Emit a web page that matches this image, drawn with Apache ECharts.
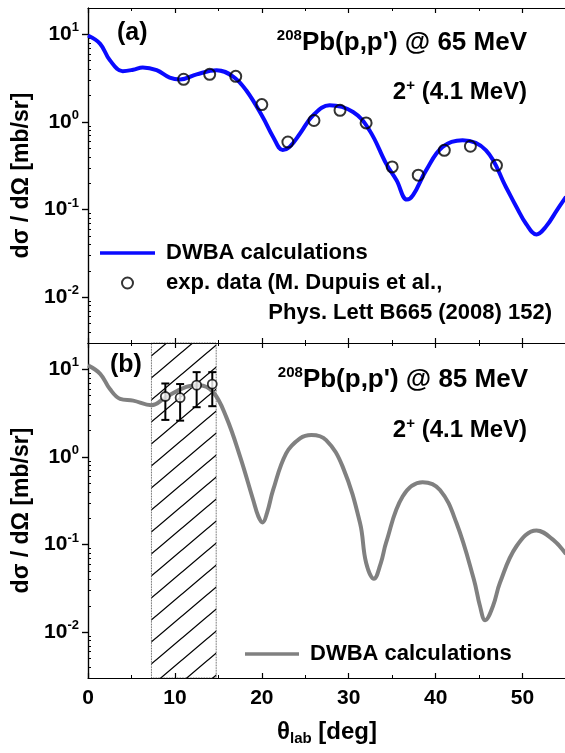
<!DOCTYPE html>
<html>
<head>
<meta charset="utf-8">
<script src="https://cdn.jsdelivr.net/npm/echarts@6/dist/echarts.min.js"></script>
<style>
  html, body { margin: 0; padding: 0; background: #fff; }
  #chart { width: 565px; height: 753px; }
</style>
</head>
<body>
<div id="chart"></div>
<script>
// ---- panel (a): 208Pb(p,p') @ 65 MeV, 2+ (4.1 MeV)
var calc65Angle = [0, 1.4, 2.5, 4.0, 5.2, 6.3, 7.9, 9.4, 10.6, 12.5, 14.8, 16.7, 18.2, 20.1, 21.3, 22.4, 23.2, 24.4, 25.9, 27.8, 30.5, 32.4, 34.3, 35.5, 36.7, 37.4, 38.9, 40.8, 43.1, 45.8, 48.1, 49.3, 50.4, 51.6, 52.7, 54.0, 55];
var calc65Xs = [9.7, 7.8, 5.1, 3.8, 3.95, 4.2, 3.9, 3.2, 3.05, 3.5, 3.9, 3.3, 2.3, 1.14, 0.675, 0.48, 0.52, 0.74, 1.19, 1.55, 1.3, 0.80, 0.335, 0.216, 0.13, 0.146, 0.28, 0.52, 0.62, 0.475, 0.18, 0.107, 0.069, 0.052, 0.064, 0.1, 0.14];
var exp65Angle = [11, 14, 17, 20, 23, 26, 29, 32, 35, 38, 41, 44, 47];
var exp65Xs = [3.07, 3.5, 3.32, 1.58, 0.59, 1.04, 1.36, 0.975, 0.307, 0.247, 0.475, 0.528, 0.32];

// ---- panel (b): 208Pb(p,p') @ 85 MeV, 2+ (4.1 MeV)
var calc85Angle = [0, 1.4, 2.5, 3.7, 5.2, 7.3, 9.0, 11.3, 12.8, 14.4, 15.9, 17.5, 19.0, 19.6, 20.1, 20.6, 21.3, 22.8, 24.4, 25.7, 27.4, 29.3, 31.3, 32.0, 32.9, 33.7, 34.3, 36.2, 38.5, 40.5, 42.4, 44.4, 45.1, 45.7, 46.6, 47.4, 49.3, 51.6, 53.5, 55];
var calc85Xs = [11.1, 8.9, 6.0, 4.6, 4.4, 3.9, 4.85, 6.3, 6.6, 5.5, 2.87, 1.01, 0.325, 0.21, 0.179, 0.23, 0.42, 1.1, 1.63, 1.78, 1.56, 0.776, 0.176, 0.062, 0.0407, 0.062, 0.105, 0.354, 0.515, 0.42, 0.176, 0.04, 0.0199, 0.0137, 0.0199, 0.0366, 0.0957, 0.145, 0.114, 0.078];
var exp85Angle = [8.9, 10.6, 12.5, 14.3];
var exp85Xs = [4.9, 4.75, 6.6, 6.8];
var exp85Low = [2.65, 2.6, 3.7, 3.8];
var exp85High = [6.9, 6.8, 9.3, 9.3];
var hatchRange = [7.3, 14.75];

// ---- ticks
var xTickLabels = [0, 10, 20, 30, 40, 50];
var yMajorTicks = [0.01, 0.1, 1, 10];
var yMinorTicks = [0.004, 0.005, 0.006, 0.007, 0.008, 0.009,
  0.02, 0.03, 0.04, 0.05, 0.06, 0.07, 0.08, 0.09,
  0.2, 0.3, 0.4, 0.5, 0.6, 0.7, 0.8, 0.9,
  2, 3, 4, 5, 6, 7, 8, 9, 20];

var FONT = "'Liberation Sans', Arial, sans-serif";
var LINE_ICON = 'path://M0,0H60V4H0Z';

function pairs(xs, ys) {
  return xs.map(function (x, i) { return [x, ys[i]]; });
}

function hatchCanvas() {
  var w = 26, h = 22;
  var c = document.createElement('canvas');
  c.width = w; c.height = h;
  var g = c.getContext('2d');
  g.strokeStyle = '#000';
  g.lineWidth = 1.3;
  g.beginPath();
  [-w, 0, w].forEach(function (dx) {
    g.moveTo(dx - 3, h + 3 * h / w);
    g.lineTo(dx + w + 3, -3 * h / w);
  });
  g.stroke();
  return c;
}

function xAxes(grid, withLabels) {
  var base = {
    gridIndex: grid, type: 'value', min: 0, max: 55, interval: 10,
    axisLine: { lineStyle: { color: '#000', width: 1.2 } },
    axisTick: { inside: true, length: 5, lineStyle: { color: '#000', width: 1.2 } },
    minorTick: { show: true, splitNumber: 2, length: 3, lineStyle: { color: '#000', width: 1 } },
    splitLine: { show: false },
    minorSplitLine: { show: false },
    axisLabel: { show: false }
  };
  var bottom = Object.assign({}, base, { position: 'bottom' });
  var top = Object.assign({}, base, { position: 'top' });
  if (withLabels) {
    bottom.axisLabel = {
      show: true, customValues: xTickLabels, margin: 10,
      fontSize: 21, fontWeight: 'bold', color: '#000', fontFamily: FONT
    };
    bottom.name = '{t|θ}{sub|lab}{t| [deg]}';
    bottom.nameLocation = 'middle';
    bottom.nameGap = 40;
    bottom.nameTextStyle = {
      rich: {
        t: { fontSize: 24, fontWeight: 'bold', color: '#000', fontFamily: FONT, lineHeight: 28 },
        sub: { fontSize: 15, fontWeight: 'bold', color: '#000', fontFamily: FONT, verticalAlign: 'bottom', lineHeight: 15 }
      }
    };
  }
  return [bottom, top];
}

function yAxes(grid) {
  var base = {
    gridIndex: grid, type: 'log', logBase: 10, min: 0.003, max: 20,
    splitLine: { show: false },
    minorSplitLine: { show: false },
    axisLabel: { show: false }
  };
  var leftMajor = Object.assign({}, base, {
    position: 'left',
    axisLine: { show: true, lineStyle: { color: '#000', width: 1.2 } },
    axisTick: { show: true, inside: false, length: 6, customValues: yMajorTicks, lineStyle: { color: '#000', width: 1.2 } },
    axisLabel: {
      show: true, customValues: yMajorTicks, margin: 9,
      formatter: function (v) {
        return '{b|10}{s|' + Math.round(Math.log10(v)) + '}';
      },
      rich: {
        b: { fontSize: 21, fontWeight: 'bold', color: '#000', fontFamily: FONT, lineHeight: 26 },
        s: { fontSize: 13, fontWeight: 'bold', color: '#000', fontFamily: FONT, verticalAlign: 'top', lineHeight: 13 }
      }
    },
    name: 'dσ / dΩ [mb/sr]',
    nameLocation: 'middle',
    nameGap: 50,
    nameTextStyle: { fontSize: 23, fontWeight: 'bold', color: '#000', fontFamily: FONT }
  });
  var rightMajor = Object.assign({}, base, {
    position: 'right',
    axisLine: { show: true, lineStyle: { color: '#000', width: 1.2 } },
    axisTick: { show: true, inside: true, length: 6, customValues: yMajorTicks, lineStyle: { color: '#000', width: 1.2 } }
  });
  // minor ticks (left used already -> these flip sides)
  var leftMinor = Object.assign({}, base, {
    position: 'right',
    axisLine: { show: false },
    axisTick: { show: true, inside: false, length: 3, customValues: yMinorTicks, lineStyle: { color: '#000', width: 1 } }
  });
  var rightMinor = Object.assign({}, base, {
    position: 'left',
    axisLine: { show: false },
    axisTick: { show: true, inside: true, length: 3, customValues: yMinorTicks, lineStyle: { color: '#000', width: 1 } }
  });
  return [leftMajor, rightMajor, leftMinor, rightMinor];
}

var chart = echarts.init(document.getElementById('chart'));

var legendText = { fontSize: 22, fontWeight: 'bold', color: '#000', fontFamily: FONT, lineHeight: 22, padding: [0, 0, 0, 6] };
var supRich = {
  m: { fontSize: 26, fontWeight: 'bold', fill: '#000', fontFamily: FONT, lineHeight: 30 },
  n: { fontSize: 24, fontWeight: 'bold', fill: '#000', fontFamily: FONT, lineHeight: 28 },
  sup: { fontSize: 15, fontWeight: 'bold', fill: '#000', fontFamily: FONT, verticalAlign: 'top', lineHeight: 15 }
};

chart.setOption({
  animation: false,
  backgroundColor: '#fff',
  grid: [
    { left: 88, top: 8, width: 478, height: 335, outerBoundsMode: 'none' },
    { left: 88, top: 343, width: 478, height: 335, outerBoundsMode: 'none' }
  ],
  xAxis: xAxes(0, false).concat(xAxes(1, true)),
  yAxis: yAxes(0).concat(yAxes(1)),
  legend: [
    {
      left: 95, top: 237, orient: 'vertical', itemWidth: 55, itemHeight: 11, itemGap: 8,
      selectedMode: false,
      data: [
        { name: 'DWBA calculations', icon: LINE_ICON },
        { name: 'exp. data (M. Dupuis et al.,' }
      ],
      textStyle: legendText
    },
    {
      left: 240, top: 638, orient: 'vertical', itemWidth: 54, itemHeight: 11,
      selectedMode: false,
      data: [{ name: 'DWBA 85', icon: LINE_ICON }],
      formatter: function () { return 'DWBA calculations'; },
      textStyle: legendText
    }
  ],
  graphic: [
    { type: 'text', x: 117, y: 33, style: { text: '(a)', font: 'bold 25px ' + FONT, fill: '#000', verticalAlign: 'middle' } },
    { type: 'text', x: 527, y: 43, style: { text: '{sup|208}{m|Pb(p,p\') @ 65 MeV}', rich: supRich, align: 'right', verticalAlign: 'middle' } },
    { type: 'text', x: 527, y: 92, style: { text: '{n|2}{sup|+}{n| (4.1 MeV)}', rich: supRich, align: 'right', verticalAlign: 'middle' } },
    { type: 'text', x: 552, y: 313, style: { text: 'Phys. Lett B665 (2008) 152)', font: 'bold 22px ' + FONT, fill: '#000', align: 'right', verticalAlign: 'middle' } },
    { type: 'text', x: 110, y: 365, style: { text: '(b)', font: 'bold 25px ' + FONT, fill: '#000', verticalAlign: 'middle' } },
    { type: 'text', x: 528, y: 380, style: { text: '{sup|208}{m|Pb(p,p\') @ 85 MeV}', rich: supRich, align: 'right', verticalAlign: 'middle' } },
    { type: 'text', x: 527, y: 430, style: { text: '{n|2}{sup|+}{n| (4.1 MeV)}', rich: supRich, align: 'right', verticalAlign: 'middle' } }
  ],
  series: [
    {
      name: 'DWBA calculations', type: 'line', xAxisIndex: 0, yAxisIndex: 0,
      data: pairs(calc65Angle, calc65Xs),
      smooth: 0.4, symbol: 'none', z: 3,
      lineStyle: { color: '#0a0aff', width: 4 },
      itemStyle: { color: '#0a0aff' }
    },
    {
      name: 'exp. data (M. Dupuis et al.,', type: 'scatter', xAxisIndex: 0, yAxisIndex: 0,
      data: pairs(exp65Angle, exp65Xs),
      symbol: 'circle', symbolSize: 11, z: 4,
      itemStyle: { color: 'rgba(255,255,255,0)', borderColor: '#000', borderWidth: 2 }
    },
    {
      name: 'DWBA 85', type: 'line', xAxisIndex: 2, yAxisIndex: 4,
      data: pairs(calc85Angle, calc85Xs),
      smooth: 0.4, symbol: 'none', z: 3,
      lineStyle: { color: '#808080', width: 4 },
      itemStyle: { color: '#808080' },
      markArea: {
        silent: true,
        itemStyle: {
          color: { image: hatchCanvas(), repeat: 'repeat' },
          opacity: 1,
          borderColor: '#222', borderWidth: 0.8, borderType: 'dotted'
        },
        data: [[{ xAxis: hatchRange[0] }, { xAxis: hatchRange[1] }]]
      }
    },
    {
      name: 'error bars', type: 'custom', xAxisIndex: 2, yAxisIndex: 4, z: 5,
      data: exp85Angle.map(function (x, i) { return [x, exp85Low[i], exp85High[i]]; }),
      encode: { x: 0, y: [1, 2] },
      renderItem: function (params, api) {
        var x = api.value(0);
        var lo = api.coord([x, api.value(1)]);
        var hi = api.coord([x, api.value(2)]);
        var w = 4;
        var st = { stroke: '#000', lineWidth: 2 };
        return {
          type: 'group',
          children: [
            { type: 'line', shape: { x1: lo[0], y1: lo[1], x2: hi[0], y2: hi[1] }, style: st },
            { type: 'line', shape: { x1: lo[0] - w, y1: lo[1], x2: lo[0] + w, y2: lo[1] }, style: st },
            { type: 'line', shape: { x1: hi[0] - w, y1: hi[1], x2: hi[0] + w, y2: hi[1] }, style: st }
          ]
        };
      }
    },
    {
      name: 'exp 85', type: 'scatter', xAxisIndex: 2, yAxisIndex: 4, z: 6,
      data: pairs(exp85Angle, exp85Xs),
      symbol: 'circle', symbolSize: 9,
      itemStyle: { color: '#fff', borderColor: '#000', borderWidth: 1.8 }
    }
  ]
});
</script>
</body>
</html>
